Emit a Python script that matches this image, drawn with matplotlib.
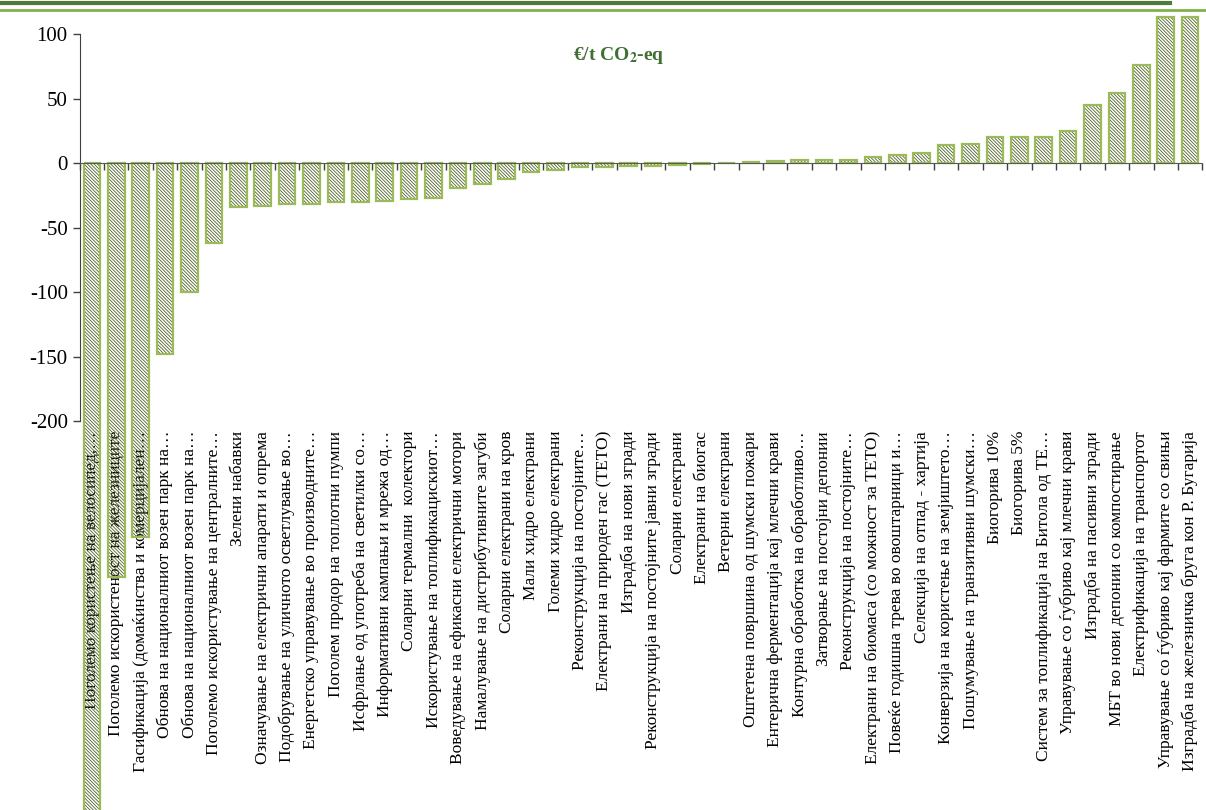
import numpy as np
import matplotlib.pyplot as plt
from matplotlib.lines import Line2D
import matplotlib.transforms as mtransforms

plt.rcParams['font.family'] = ['Liberation Serif', 'DejaVu Serif']
plt.rcParams['mathtext.fontset'] = 'stix'
plt.rcParams['axes.unicode_minus'] = False
plt.rcParams['hatch.linewidth'] = 0.6

# категории (мерки) и трошоци €/t CO2-eq
categories = [
    'Поголемо користење на велосипед,…',
    'Поголемо искористеност на железниците',
    'Гасификација (домаќинства и комерцијален…',
    'Обнова на националниот возен парк на…',
    'Обнова на националниот возен парк на…',
    'Поголемо искористување на централните…',
    'Зелени набавки',
    'Означување на електрични апарати и опрема',
    'Подобрување на уличното осветлување во…',
    'Енергетско управување во производните…',
    'Поголем продор на топлотни пумпи',
    'Исфрлање од употреба на светилки со…',
    'Информативни кампањи и мрежа од…',
    'Соларни термални  колектори',
    'Искористување на топлификацискиот…',
    'Воведување на ефикасни електрични мотори',
    'Намалување на дистрибутивните загуби',
    'Соларни електрани на кров',
    'Мали хидро електрани',
    'Големи хидро електрани',
    'Реконструкција на постојните…',
    'Електрани на природен гас (ТЕТО)',
    'Изградба на нови згради',
    'Реконструкција на постојните јавни згради',
    'Соларни електрани',
    'Електрани на биогас',
    'Ветерни електрани',
    'Оштетена површина од шумски пожари',
    'Ентерична ферментација кај млечни крави',
    'Контурна обработка на обработливо…',
    'Затворање на постојни депонии',
    'Реконструкција на постојните…',
    'Електрани на биомаса (со можност за ТЕТО)',
    'Повеќе годишна трева во овоштарници и…',
    'Селекција на отпад - хартија',
    'Конверзија на користење на земјиштето…',
    'Пошумување на транзитивни шумски…',
    'Биогорива 10%',
    'Биогорива 5%',
    'Систем за топлификација на Битола од ТЕ…',
    'Управување со ѓубриво кај млечни крави',
    'Изградба на пасивни згради',
    'МБТ во нови депонии со компостирање',
    'Електрификација на транспортот',
    'Управување со ѓубриво кај фармите со свињи',
    'Изградба на железничка бруга кон Р. Бугарија',
]
values = [
    -520, -321, -290, -148, -100, -62, -34, -33, -32, -32,
    -30, -30, -29, -28, -27, -19, -16, -12, -7, -5,
    -3, -3, -2, -2, -1.5, -1, -0.3, 0.5, 1.5, 2,
    2, 2, 5, 6, 8, 14, 15, 20, 20, 20,
    25, 45, 54, 76, 113, 113,
]

edge_green = '#9BBB59'
hatch_green = '#4F6228'
title_green = '#3F7033'

fig = plt.figure(figsize=(12.06, 8.10), dpi=100)
ax = fig.add_axes([0.066, 0.480, 0.931, 0.478])

x = np.arange(len(categories))
# хачура
ax.bar(x, values, width=0.68, facecolor='none', edgecolor=hatch_green,
       linewidth=0, hatch='\\' * 10, clip_on=False, zorder=3)
# рамка
ax.bar(x, values, width=0.68, facecolor='none', edgecolor=edge_green,
       linewidth=1.6, clip_on=False, zorder=4)

ax.set_xlim(-0.5, len(categories) - 0.5)
ax.set_ylim(-200, 100)
ax.set_yticks([100, 50, 0, -50, -100, -150, -200])
ax.tick_params(axis='y', labelsize=15, length=5, width=1, color='#404040')

for s in ['top', 'right']:
    ax.spines[s].set_visible(False)
ax.spines['left'].set_color('#404040')
ax.spines['bottom'].set_position(('data', 0))
ax.spines['bottom'].set_color('#595959')
ax.spines['bottom'].set_zorder(5)
ax.set_xticks(np.arange(len(categories) + 1) - 0.5)
ax.set_xticklabels([])
ax.tick_params(axis='x', length=5, width=1, color='#404040', direction='out')

# имиња на категориите под графикот
trans = mtransforms.blended_transform_factory(ax.transData, ax.transAxes)
for xi, lab in zip(x, categories):
    ax.text(xi, -0.025, lab, rotation=90, ha='center', va='top',
            fontsize=12.5, transform=trans, zorder=1, clip_on=False)

ax.text(0.48, 0.945, r'€/t CO$_{\mathbf{2}}$-eq', transform=ax.transAxes,
        ha='center', va='center', fontsize=14, fontweight='bold', color=title_green)

# линии во заглавието
fig.add_artist(Line2D([0, 0.97], [0.996, 0.996], color='#4E7A3A', linewidth=3))
fig.add_artist(Line2D([0, 1], [0.988, 0.988], color='#7FB24A', linewidth=2))

fig.savefig('out.png', dpi=100)
